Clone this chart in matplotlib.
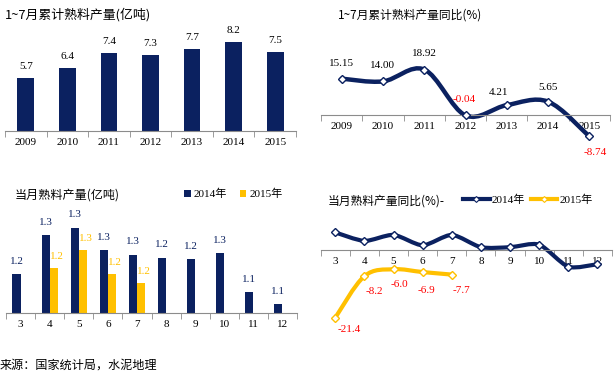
import numpy as np
import matplotlib
matplotlib.use("Agg")
import matplotlib.pyplot as plt
from matplotlib.path import Path
from matplotlib.patches import PathPatch
from matplotlib.lines import Line2D

# ---------------- data ----------------
years = ["2009", "2010", "2011", "2012", "2013", "2014", "2015"]
cum_output = [5.7, 6.4, 7.4, 7.3, 7.7, 8.2, 7.5]
cum_yoy = [15.15, 14.00, 18.92, -0.04, 4.21, 5.65, -8.74]

months = ["3", "4", "5", "6", "7", "8", "9", "10", "11", "12"]
month_2014 = [1.19, 1.32, 1.345, 1.27, 1.255, 1.245, 1.24, 1.26, 1.13, 1.09]
month_2015 = [np.nan, 1.21, 1.27, 1.19, 1.16, np.nan, np.nan, np.nan, np.nan, np.nan]
yoy_2014 = [5.7, 3.0, 4.9, 1.6, 4.9, 1.0, 1.0, 1.8, -5.2, -4.4]
yoy_2015 = [-21.4, -8.2, -6.0, -6.9, -7.7]

NAVY = "#0b2160"
GOLD = "#ffc000"
RED = "#ff0000"
AXC = "#8c8c8c"

W, H = 614, 376
fig = plt.figure(figsize=(W / 100, H / 100), dpi=100)

CJK = ["Noto Sans CJK SC", "DejaVu Sans"]
SERIF = ["Liberation Serif", "Noto Sans CJK SC"]


def add_ax(x0, x1, ytop, ybot):
    return fig.add_axes([x0 / W, 1 - ybot / H, (x1 - x0) / W, (ybot - ytop) / H])


def style_ax(ax, n, labels, zero_spine=False):
    for s in ["top", "right", "left"]:
        ax.spines[s].set_visible(False)
    if zero_spine:
        ax.spines["bottom"].set_position(("data", 0))
    ax.spines["bottom"].set_color(AXC)
    ax.spines["bottom"].set_linewidth(0.8)
    ax.set_yticks([])
    ax.set_xlim(-0.5, n - 0.5)
    ax.set_xticks(np.arange(n))
    ax.set_xticklabels(labels, fontfamily=SERIF, fontsize=8)
    ax.tick_params(axis="x", which="major", length=0, pad=5)
    ax.set_xticks(np.arange(n + 1) - 0.5, minor=True)
    ax.tick_params(axis="x", which="minor", length=4, color=AXC, direction="out")
    ax.patch.set_alpha(0)


def smooth(ax, xs, ys, color, lw, t=1 / 6):
    pts = np.column_stack([xs, ys]).astype(float)
    verts = [pts[0]]
    codes = [Path.MOVETO]
    n = len(pts)
    for i in range(n - 1):
        p0 = pts[i - 1] if i > 0 else pts[i]
        p1 = pts[i]
        p2 = pts[i + 1]
        p3 = pts[i + 2] if i + 2 < n else pts[i + 1]
        verts += [p1 + (p2 - p0) * t, p2 - (p3 - p1) * t, p2]
        codes += [Path.CURVE4] * 3
    ax.add_patch(PathPatch(Path(verts, codes), fill=False, edgecolor=color,
                           lw=lw, capstyle="round", joinstyle="round", zorder=2))
    ax.plot(xs, ys, ls="none", marker="D", ms=4, mfc="white", mec=color,
            mew=1, zorder=3)


# ---------------- top left: cumulative output ----------------
ax1 = add_ax(5, 296, 23, 131)
ax1.set_ylim(2, 9.5)
style_ax(ax1, len(years), years)
x = np.arange(len(years))
ax1.bar(x, cum_output, width=0.4, color=NAVY, bottom=0)
for xi, v in zip(x, cum_output):
    ax1.annotate(f"{v:.1f}", (xi, v), xytext=(0, 5), textcoords="offset points",
                 ha="center", va="bottom", fontsize=8, fontfamily=SERIF)
fig.text(5 / W, 1 - 15 / H, "1~7月累计熟料产量(亿吨)", fontfamily=CJK,
         fontsize=9.3, va="center", ha="left")

# ---------------- top right: cumulative yoy ----------------
ax2 = add_ax(321, 610, 30.6, 151.6)
ax2.set_ylim(-15, 35)
style_ax(ax2, len(years), years, zero_spine=True)
smooth(ax2, x, cum_yoy, NAVY, 3.2)
offs = [(0, 8), (0, 8), (0, 8), (-1, 8), (-6, 6), (0, 7), (4, -8)]
for xi, v, o in zip(x, cum_yoy, offs):
    ax2.annotate(f"{v:.2f}", (xi, v), xytext=o, textcoords="offset points",
                 ha="center", va="bottom" if o[1] > 0 else "top", fontsize=8,
                 fontfamily=SERIF, color=RED if v < 0 else "black")
fig.text(338 / W, 1 - 15 / H, "1~7月累计熟料产量同比(%)", fontfamily=CJK,
         fontsize=8.5, va="center", ha="left")

# ---------------- bottom left: monthly output ----------------
ax3 = add_ax(6, 297, 205.3, 313.3)
ax3.set_ylim(1.06, 1.42)
style_ax(ax3, len(months), months)
xm = np.arange(len(months))
b1 = ax3.bar(xm - 0.14, month_2014, width=0.28, color=NAVY, label="2014年")
b2 = ax3.bar(xm + 0.14, month_2015, width=0.28, color=GOLD, label="2015年")
for xi, v in zip(xm, month_2014):
    ax3.annotate(f"{v:.1f}", (xi - 0.14, v), xytext=(0, 6), textcoords="offset points",
                 ha="center", va="bottom", fontsize=8, fontfamily=SERIF, color=NAVY)
for xi, v in zip(xm, month_2015):
    if not np.isnan(v):
        ax3.annotate(f"{v:.1f}", (xi + 0.14, v), xytext=(2, 5), textcoords="offset points",
                     ha="center", va="bottom", fontsize=8, fontfamily=SERIF, color=GOLD)
fig.text(15 / W, 1 - 195 / H, "当月熟料产量(亿吨)", fontfamily=CJK,
         fontsize=8.7, va="center", ha="left")
fig.legend(handles=[b1, b2], loc="center left", bbox_to_anchor=(184 / W, 1 - 194 / H),
           frameon=False, ncol=2, handlelength=0.6, handleheight=0.6,
           handletextpad=0.3, columnspacing=1.1, borderaxespad=0, borderpad=0,
           prop={"family": SERIF, "size": 8})

# ---------------- bottom right: monthly yoy ----------------
ax4 = add_ax(320.7, 612, 215.7, 344.8)
ax4.set_ylim(-30, 11)
style_ax(ax4, len(months), months, zero_spine=True)
smooth(ax4, xm, yoy_2014, NAVY, 3, t=1 / 8)
x15 = xm[:len(yoy_2015)]
smooth(ax4, x15, yoy_2015, GOLD, 3)
offs4 = [(10, -5), (7, -8), (4, -8), (3, -10), (7, -8)]
for xi, v, o in zip(x15, yoy_2015, offs4):
    ax4.annotate(f"{v:.1f}", (xi, v), xytext=o, textcoords="offset points",
                 ha="center", va="top", fontsize=8, fontfamily=SERIF, color=RED)
fig.text(328 / W, 1 - 201 / H, "当月熟料产量同比(%)-", fontfamily=CJK,
         fontsize=8.5, va="center", ha="left")
h1 = Line2D([], [], color=NAVY, lw=3, marker="D", ms=3, mfc="white", mec=NAVY, mew=0.8)
h2 = Line2D([], [], color=GOLD, lw=3, marker="D", ms=3, mfc="white", mec=GOLD, mew=0.8)
fig.legend(handles=[h1, h2], labels=["2014年", "2015年"], loc="center left",
           bbox_to_anchor=(463 / W, 1 - 200 / H), frameon=False, ncol=2,
           handlelength=2.4, handletextpad=0.2, columnspacing=0.5, borderaxespad=0,
           borderpad=0, markerfirst=True, prop={"family": SERIF, "size": 8})

# ---------------- source ----------------
fig.text(0 / W, 1 - 365 / H, "来源：国家统计局，水泥地理", fontfamily=CJK,
         fontsize=8.7, va="center", ha="left")

fig.savefig("out.png", dpi=100)
